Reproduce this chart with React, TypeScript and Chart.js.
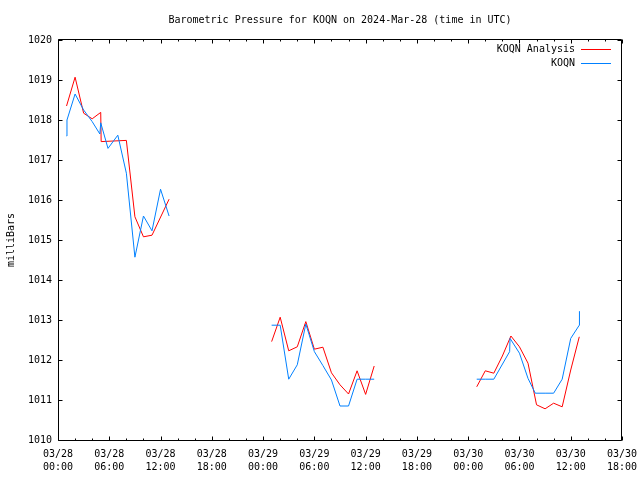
import React, { useEffect, useRef } from "react";
import { Chart, registerables } from "chart.js";

Chart.register(...registerables);

// Hours since 2024-03-28 00:00 UTC; null marks a gap in the record
const analysisHours = [
  1, 2, 3, 4, 5, 5.05, 8, 9, 10, 11, 13,
  19,
  25, 26, 27, 28, 29, 30, 31, 32, 33, 34, 35, 36, 37,
  43,
  49, 50, 51, 52, 53, 54, 55, 56, 57, 58, 59, 60, 61,
];
const analysisValues = [
  1018.35, 1019.07, 1018.17, 1018.03, 1018.19, 1017.46, 1017.49, 1015.58, 1015.08, 1015.12, 1016.02,
  null,
  1012.46, 1013.07, 1012.23, 1012.33, 1012.96, 1012.27, 1012.32, 1011.68, 1011.38, 1011.15, 1011.73, 1011.14, 1011.85,
  null,
  1011.33, 1011.73, 1011.67, 1012.1, 1012.6, 1012.33, 1011.92, 1010.88, 1010.78, 1010.92, 1010.83, 1011.75, 1012.58,
];

const obsHours = [
  1, 1.05, 2, 3, 4, 4.9, 5.0, 5.85, 7, 8, 9, 10, 11, 12, 13,
  19,
  25, 26, 27, 28, 29, 30, 31, 32, 33, 34, 35, 36, 37,
  43,
  49, 50, 51, 52.85, 52.9, 54, 55, 55.85, 57, 58, 59, 60, 61, 61.02,
];
const obsValues = [
  1017.6, 1018.0, 1018.65, 1018.25, 1017.96, 1017.65, 1017.93, 1017.29, 1017.62, 1016.67, 1014.57, 1015.6, 1015.23, 1016.27, 1015.6,
  null,
  1012.87, 1012.87, 1011.52, 1011.88, 1012.9, 1012.21, 1011.86, 1011.5, 1010.85, 1010.85, 1011.52, 1011.52, 1011.52,
  null,
  1011.52, 1011.52, 1011.52, 1012.21, 1012.54, 1012.17, 1011.54, 1011.17, 1011.17, 1011.17, 1011.52, 1012.54, 1012.87, 1013.22,
];

const tickDates = ["03/28", "03/28", "03/28", "03/28", "03/29", "03/29", "03/29", "03/29", "03/30", "03/30", "03/30", "03/30"];
const tickTimes = ["00:00", "06:00", "12:00", "18:00", "00:00", "06:00", "12:00", "18:00", "00:00", "06:00", "12:00", "18:00"];

const TITLE = "Barometric Pressure for KOQN on 2024-Mar-28 (time in UTC)";
const Y_LABEL = "milliBars";
const SERIES_NAMES = ["KOQN Analysis", "KOQN"];
const COLORS = ["#ff0000", "#0080ff"];
const FONT = "10px 'DejaVu Sans Mono', monospace";

const framePlugin = {
  id: "gnuplotFrame",
  afterDraw(chart: any) {
    const { ctx, chartArea, scales } = chart;
    const { left, right, top, bottom } = chartArea;
    const xs = scales.x;
    const ys = scales.y;
    ctx.save();
    ctx.strokeStyle = "#000";
    ctx.lineWidth = 1;
    const L = left + 0.5, R = right - 0.5, T = top - 0.5, B = bottom + 0.5;
    ctx.beginPath();
    ctx.moveTo(L, T); ctx.lineTo(R, T); ctx.lineTo(R, B); ctx.lineTo(L, B); ctx.closePath();
    // x ticks every 2 h, major every 6 h
    for (let h = 0; h <= 66; h += 2) {
      const px = Math.round(xs.getPixelForValue(h)) + 0.5;
      const len = h % 6 === 0 ? 4 : 2;
      ctx.moveTo(px, B); ctx.lineTo(px, B - len);
      ctx.moveTo(px, T); ctx.lineTo(px, T + len);
    }
    for (let v = 1010; v <= 1020; v += 1) {
      const py = Math.round(ys.getPixelForValue(v)) + 0.5;
      ctx.moveTo(L, py); ctx.lineTo(L + 4, py);
      ctx.moveTo(R, py); ctx.lineTo(R - 4, py);
    }
    ctx.stroke();

    ctx.fillStyle = "#000";
    ctx.font = FONT;
    ctx.textBaseline = "middle";
    ctx.textAlign = "center";
    ctx.fillText(TITLE, (left + right) / 2, 20);

    ctx.save();
    ctx.translate(11, (top + bottom) / 2);
    ctx.rotate(-Math.PI / 2);
    ctx.fillText(Y_LABEL, 0, 0);
    ctx.restore();

    // legend
    ctx.textAlign = "right";
    SERIES_NAMES.forEach((name, i) => {
      const ly = 49 + i * 14;
      ctx.fillStyle = "#000";
      ctx.fillText(name, 575, ly);
      ctx.fillStyle = COLORS[i];
      ctx.fillRect(581, ly, 30, 1);
    });
    ctx.restore();
  },
};

export default function App() {
  const ref = useRef<HTMLCanvasElement | null>(null);

  useEffect(() => {
    document.body.style.margin = "0";
    const canvas = ref.current;
    if (!canvas) return;
    const redData = analysisHours.map((h, i) => ({ x: h, y: analysisValues[i] }));
    const blueData = obsHours.map((h, i) => ({ x: h, y: obsValues[i] }));
    const tickFont = { family: "'DejaVu Sans Mono', monospace", size: 10, lineHeight: 1.3 };
    const chart = new Chart(canvas, {
      type: "line",
      data: {
        datasets: [
          {
            label: SERIES_NAMES[1],
            data: blueData as any,
            borderColor: COLORS[1],
            borderWidth: 1,
            pointRadius: 0,
            tension: 0,
            spanGaps: false,
          },
          {
            label: SERIES_NAMES[0],
            data: redData as any,
            borderColor: COLORS[0],
            borderWidth: 1,
            pointRadius: 0,
            tension: 0,
            spanGaps: false,
          },
        ],
      },
      options: {
        animation: false,
        responsive: false,
        devicePixelRatio: 1,
        parsing: false as any,
        layout: { padding: { top: 40, right: 18, left: 0, bottom: 0 } },
        plugins: {
          legend: { display: false },
          title: { display: false },
          tooltip: { enabled: false },
        },
        scales: {
          x: {
            type: "linear",
            min: 0,
            max: 66,
            grid: { display: false, drawTicks: false },
            border: { display: false },
            afterFit: (s: any) => {
              s.height = 40;
              s.paddingLeft = 0;
              s.paddingRight = 0;
            },
            ticks: {
              stepSize: 6,
              autoSkip: false,
              maxRotation: 0,
              minRotation: 0,
              padding: 8,
              color: "#000",
              font: tickFont,
              callback: (v: any) => {
                const i = Math.round(Number(v) / 6);
                return [tickDates[i], tickTimes[i]];
              },
            },
          },
          y: {
            type: "linear",
            min: 1010,
            max: 1020,
            grid: { display: false, drawTicks: false },
            border: { display: false },
            afterFit: (s: any) => {
              s.width = 58;
              s.paddingTop = 0;
              s.paddingBottom = 0;
            },
            ticks: {
              stepSize: 1,
              padding: 6,
              color: "#000",
              font: tickFont,
              callback: (v: any) => String(v),
            },
          },
        },
      },
      plugins: [framePlugin],
    });
    return () => chart.destroy();
  }, []);

  return (
    <div style={{ width: 640, height: 480 }}>
      <canvas ref={ref} width={640} height={480} style={{ display: "block" }} />
    </div>
  );
}
